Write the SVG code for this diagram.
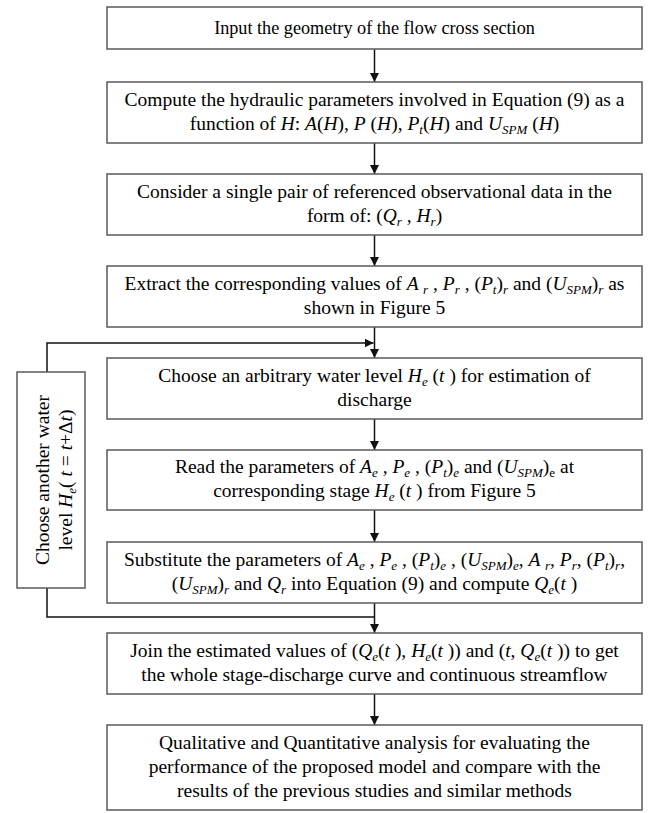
<svg xmlns="http://www.w3.org/2000/svg" width="662" height="813" viewBox="0 0 662 813">
<style>
text{font-family:"Liberation Serif","Times New Roman",serif;font-size:19.5px;fill:#000;text-anchor:middle}
.t1{font-size:18.2px}
.box{fill:#fff;stroke:#5a5a5a;stroke-width:1.5}
.ln{fill:none;stroke:#111;stroke-width:1.5}
.i{font-style:italic}
.s{font-size:13px;baseline-shift:-4px}
.si{font-size:13px;baseline-shift:-4px;font-style:italic}
</style>
<defs>
<marker id="ah" viewBox="0 0 10 10" refX="10" refY="5" markerWidth="9" markerHeight="9" markerUnits="userSpaceOnUse" orient="auto">
<path d="M0,0 L10,5 L0,10 z" fill="#111"/>
</marker>
</defs>
<g id="connectors">
<line class="ln" x1="374.5" y1="49" x2="374.5" y2="82" marker-end="url(#ah)"/>
<line class="ln" x1="374.5" y1="143" x2="374.5" y2="174" marker-end="url(#ah)"/>
<line class="ln" x1="374.5" y1="235" x2="374.5" y2="266" marker-end="url(#ah)"/>
<line class="ln" x1="374.5" y1="327" x2="374.5" y2="358" marker-end="url(#ah)"/>
<line class="ln" x1="374.5" y1="419" x2="374.5" y2="450" marker-end="url(#ah)"/>
<line class="ln" x1="374.5" y1="510" x2="374.5" y2="542" marker-end="url(#ah)"/>
<line class="ln" x1="374.5" y1="603" x2="374.5" y2="633" marker-end="url(#ah)"/>
<line class="ln" x1="374.5" y1="694" x2="374.5" y2="725" marker-end="url(#ah)"/>
<polyline class="ln" points="47,588 47,617 374.5,617"/>
<polyline class="ln" points="47,372 47,343 373.5,343" marker-end="url(#ah)"/>
</g>
<g id="n1">
<rect class="box" x="107" y="7" width="535" height="42"/>
<text class="t1" x="374.5" y="34">Input the geometry of the flow cross section</text>
</g>
<g id="n2">
<rect class="box" x="107" y="82" width="535" height="61"/>
<text x="374.5" y="105.5">Compute the hydraulic parameters involved in Equation (9) as a</text>
<text x="374.5" y="129.5">function of <tspan class="i">H</tspan>: <tspan class="i">A</tspan>(<tspan class="i">H</tspan>), <tspan class="i">P</tspan> (<tspan class="i">H</tspan>), <tspan class="i">P</tspan><tspan class="si">t</tspan><tspan>(</tspan><tspan class="i">H</tspan>) and <tspan class="i">U</tspan><tspan class="si">SPM</tspan><tspan> (</tspan><tspan class="i">H</tspan>)</text>
</g>
<g id="n3">
<rect class="box" x="107" y="174" width="535" height="61"/>
<text x="374.5" y="197.5">Consider a single pair of referenced observational data in the</text>
<text x="374.5" y="221.5">form of: (<tspan class="i">Q</tspan><tspan class="si">r</tspan><tspan> , </tspan><tspan class="i">H</tspan><tspan class="si">r</tspan><tspan>)</tspan></text>
</g>
<g id="n4">
<rect class="box" x="107" y="266" width="535" height="61"/>
<text x="374.5" y="289.5">Extract the corresponding values of <tspan class="i">A </tspan><tspan class="si">r</tspan><tspan> , </tspan><tspan class="i">P</tspan><tspan class="si">r</tspan><tspan> , (</tspan><tspan class="i">P</tspan><tspan class="si">t</tspan><tspan>)</tspan><tspan class="si">r</tspan><tspan> and (</tspan><tspan class="i">U</tspan><tspan class="si">SPM</tspan><tspan>)</tspan><tspan class="si">r</tspan><tspan> as</tspan></text>
<text x="374.5" y="313.5">shown in Figure 5</text>
</g>
<g id="n5">
<rect class="box" x="107" y="358" width="535" height="61"/>
<text x="374.5" y="381.5">Choose an arbitrary water level <tspan class="i">H</tspan><tspan class="si">e</tspan><tspan> (</tspan><tspan class="i">t</tspan><tspan> ) for estimation of</tspan></text>
<text x="374.5" y="405.5">discharge</text>
</g>
<g id="n6">
<rect class="box" x="107" y="450" width="535" height="60"/>
<text x="374.5" y="473">Read the parameters of <tspan class="i">A</tspan><tspan class="si">e</tspan><tspan> , </tspan><tspan class="i">P</tspan><tspan class="si">e</tspan><tspan> , (</tspan><tspan class="i">P</tspan><tspan class="si">t</tspan><tspan>)</tspan><tspan class="si">e</tspan><tspan> and (</tspan><tspan class="i">U</tspan><tspan class="si">SPM</tspan><tspan>)</tspan><tspan class="s">e</tspan><tspan> at</tspan></text>
<text x="374.5" y="497">corresponding stage <tspan class="i">H</tspan><tspan class="si">e</tspan><tspan> (</tspan><tspan class="i">t</tspan><tspan> ) from Figure 5</tspan></text>
</g>
<g id="n7">
<rect class="box" x="107" y="542" width="535" height="61"/>
<text x="374.5" y="565.5">Substitute the parameters of <tspan class="i">A</tspan><tspan class="si">e</tspan><tspan> , </tspan><tspan class="i">P</tspan><tspan class="si">e</tspan><tspan> , (</tspan><tspan class="i">P</tspan><tspan class="si">t</tspan><tspan>)</tspan><tspan class="si">e</tspan><tspan> , (</tspan><tspan class="i">U</tspan><tspan class="si">SPM</tspan><tspan>)</tspan><tspan class="si">e</tspan><tspan>, </tspan><tspan class="i">A </tspan><tspan class="si">r</tspan><tspan>, </tspan><tspan class="i">P</tspan><tspan class="si">r</tspan><tspan>, (</tspan><tspan class="i">P</tspan><tspan class="si">t</tspan><tspan>)</tspan><tspan class="si">r</tspan><tspan>,</tspan></text>
<text x="374.5" y="589.5">(<tspan class="i">U</tspan><tspan class="si">SPM</tspan><tspan>)</tspan><tspan class="si">r</tspan><tspan> and </tspan><tspan class="i">Q</tspan><tspan class="si">r</tspan><tspan> into Equation (9) and compute </tspan><tspan class="i">Q</tspan><tspan class="si">e</tspan><tspan>(</tspan><tspan class="i">t</tspan><tspan> )</tspan></text>
</g>
<g id="n8">
<rect class="box" x="107" y="633" width="535" height="61"/>
<text x="374.5" y="656.5">Join the estimated values of (<tspan class="i">Q</tspan><tspan class="si">e</tspan><tspan>(</tspan><tspan class="i">t</tspan><tspan> ), </tspan><tspan class="i">H</tspan><tspan class="si">e</tspan><tspan>(</tspan><tspan class="i">t</tspan><tspan> )) and (</tspan><tspan class="i">t</tspan><tspan>, </tspan><tspan class="i">Q</tspan><tspan class="si">e</tspan><tspan>(</tspan><tspan class="i">t</tspan><tspan> )) to get</tspan></text>
<text x="374.5" y="680.5">the whole stage-discharge curve and continuous streamflow</text>
</g>
<g id="n9">
<rect class="box" x="107" y="725" width="535" height="85"/>
<text x="374.5" y="748.5">Qualitative and Quantitative analysis for evaluating the</text>
<text x="374.5" y="772.5">performance of the proposed model and compare with the</text>
<text x="374.5" y="796.5">results of the previous studies and similar methods</text>
</g>
<g id="n10">
<rect class="box" x="17" y="372" width="68" height="216"/>
<text transform="translate(49,480) rotate(-90)">Choose another water</text>
<text transform="translate(72,480) rotate(-90)">level <tspan class="i">H</tspan><tspan class="si">e</tspan><tspan>( </tspan><tspan class="i">t</tspan><tspan> = </tspan><tspan class="i">t</tspan><tspan>+Δ</tspan><tspan class="i">t</tspan><tspan>)</tspan></text>
</g>
</svg>
